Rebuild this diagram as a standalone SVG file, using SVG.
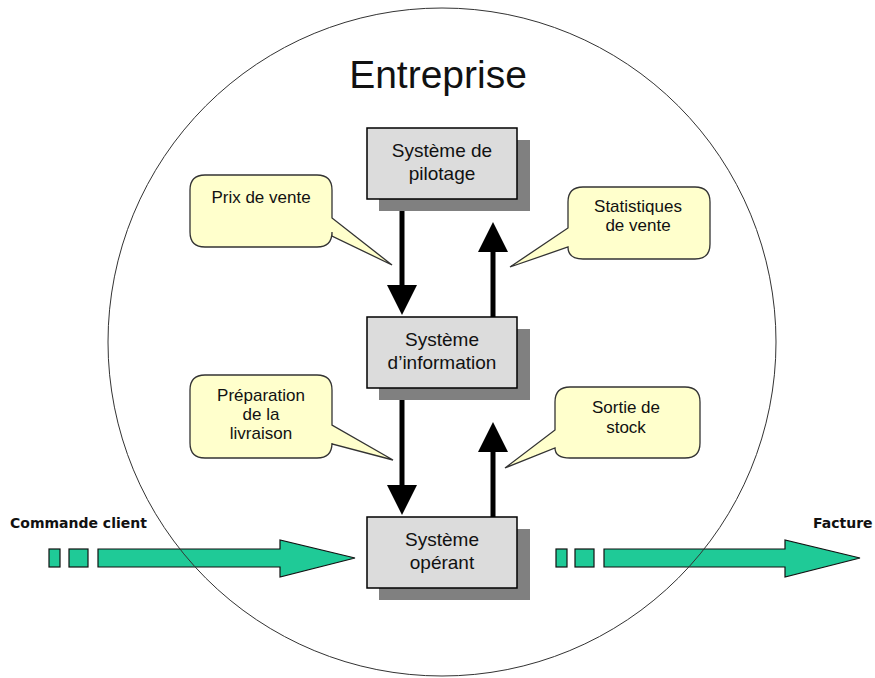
<svg xmlns="http://www.w3.org/2000/svg" width="875" height="678" viewBox="0 0 875 678">
<defs>
<style>
.box{fill:#dcdcdc;stroke:#000;stroke-width:1.5}
.shadow{fill:#808080}
.bt{font-family:"Liberation Sans",Arial,sans-serif;font-size:19px;fill:#111;text-anchor:middle}
.call{fill:#ffffcc;stroke:#333;stroke-width:1.3}
.ct{font-family:"Liberation Sans",Arial,sans-serif;font-size:17px;fill:#111;text-anchor:middle}
.lab{font-family:"DejaVu Sans",Verdana,sans-serif;font-weight:bold;font-size:14px;fill:#111}
.shaft{stroke:#000;stroke-width:5;fill:none}
.head{fill:#000}
.green{fill:#1fca97;stroke:#111;stroke-width:1.2}
</style>
</defs>
<rect width="875" height="678" fill="#fff"/>
<g id="connectors">
<line class="shaft" x1="402" y1="199" x2="402" y2="287"/>
<polygon class="head" points="387,285 417,285 402,315"/>
<line class="shaft" x1="493" y1="317" x2="493" y2="250"/>
<polygon class="head" points="478,252 508,252 493,222"/>
<line class="shaft" x1="402" y1="388" x2="402" y2="487"/>
<polygon class="head" points="387,485 417,485 402,515"/>
<line class="shaft" x1="493" y1="517" x2="493" y2="450"/>
<polygon class="head" points="478,452 508,452 493,422"/>
<g id="commande-client">
<rect class="green" x="49" y="549" width="11" height="18"/>
<rect class="green" x="69" y="549" width="19" height="18"/>
<polygon class="green" points="98,549 280,549 280,540 355,558 280,577 280,567 98,567"/>
</g>
<g id="facture">
<rect class="green" x="556" y="549" width="11" height="18"/>
<rect class="green" x="575" y="549" width="19" height="18"/>
<polygon class="green" points="604,549 785,549 785,540 860,558 785,577 785,567 604,567"/>
</g>
</g>
<g id="entreprise">
<circle cx="442" cy="342" r="334" fill="none" stroke="#333" stroke-width="1"/>
<text x="438" y="88" font-family="'Liberation Sans',Arial,sans-serif" font-size="39" fill="#111" text-anchor="middle">Entreprise</text>
</g>
<g id="systeme-pilotage">
<rect class="shadow" x="379" y="140" width="151" height="71"/>
<rect class="box" x="367" y="128" width="150" height="71"/>
<text class="bt" x="442" y="157">Système de</text>
<text class="bt" x="442" y="180">pilotage</text>
</g>
<g id="systeme-information">
<rect class="shadow" x="379" y="329" width="151" height="71"/>
<rect class="box" x="367" y="317" width="150" height="71"/>
<text class="bt" x="442" y="346">Système</text>
<text class="bt" x="442" y="369">d’information</text>
</g>
<g id="systeme-operant">
<rect class="shadow" x="379" y="529" width="151" height="71"/>
<rect class="box" x="367" y="517" width="150" height="71"/>
<text class="bt" x="442" y="546">Système</text>
<text class="bt" x="442" y="569">opérant</text>
</g>
<g id="prix-de-vente">
<path class="call" d="M205,175 H317 Q332,175 332,190 V218 L392,265 L332,236 V232 Q332,247 317,247 H205 Q190,247 190,232 V190 Q190,175 205,175 Z"/>
<text class="ct" x="261" y="203">Prix de vente</text>
</g>
<g id="statistiques-de-vente">
<path class="call" d="M583,187 H695 Q710,187 710,202 V244 Q710,259 695,259 H583 Q568,259 568,247 L510,267 L568,228 V202 Q568,187 583,187 Z"/>
<text class="ct" x="638" y="212">Statistiques</text>
<text class="ct" x="638" y="231">de vente</text>
</g>
<g id="preparation-livraison">
<path class="call" d="M205,375 H317 Q332,375 332,390 V425 L393,460 L332,444 V443 Q332,458 317,458 H205 Q190,458 190,443 V390 Q190,375 205,375 Z"/>
<text class="ct" x="261" y="401">Préparation</text>
<text class="ct" x="261" y="420">de la</text>
<text class="ct" x="261" y="439">livraison</text>
</g>
<g id="sortie-de-stock">
<path class="call" d="M570,387 H685 Q700,387 700,402 V443 Q700,458 685,458 H570 Q555,458 555,448 L505,468 L555,430 V402 Q555,387 570,387 Z"/>
<text class="ct" x="626" y="413">Sortie de</text>
<text class="ct" x="626" y="433">stock</text>
</g>
<text class="lab" x="10" y="528">Commande client</text>
<text class="lab" x="813" y="528">Facture</text>
</svg>
